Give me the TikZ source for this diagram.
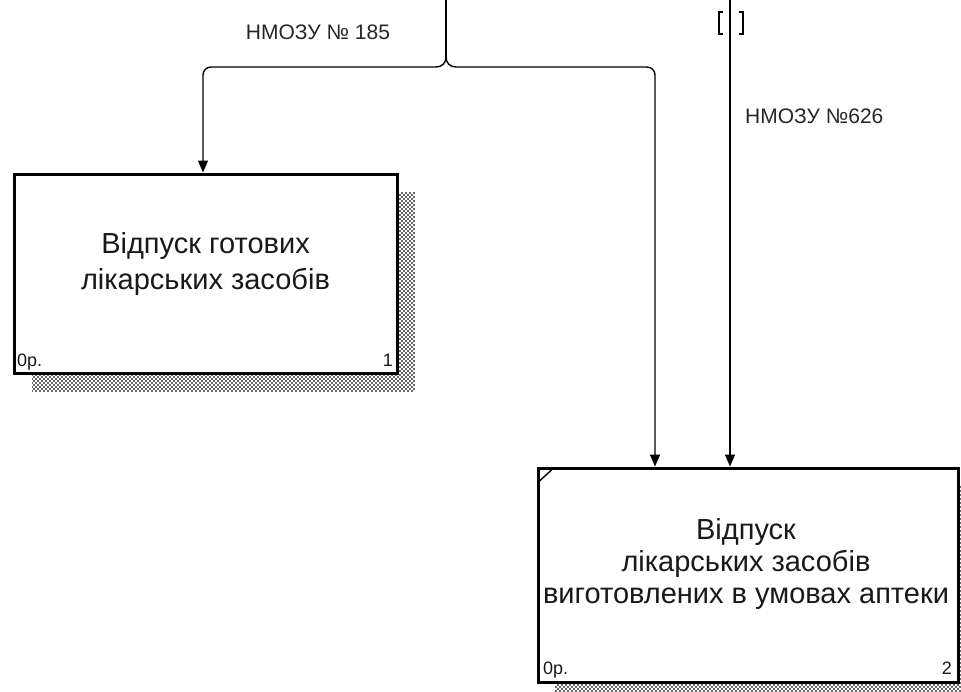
\documentclass[tikz,border=0pt]{standalone}
\usepackage{fontspec}
\setmainfont{Liberation Sans}
\usetikzlibrary{arrows.meta,patterns,calc}
\pgfdeclarepatternformonly{shadedots}{\pgfqpoint{-1pt}{-1pt}}{\pgfqpoint{5pt}{5pt}}{\pgfqpoint{4pt}{4pt}}%
{\pgfpathcircle{\pgfqpoint{0pt}{0pt}}{1.1pt}\pgfpathcircle{\pgfqpoint{2pt}{2pt}}{1.1pt}\pgfusepath{fill}}
\begin{document}
\begin{tikzpicture}[x=1pt,y=-1pt,
  actbox/.style={draw=black,line width=3pt,fill=white,rectangle,inner sep=0pt},
  shadowbox/.style={pattern=shadedots,pattern color=black!80},
  arrowline/.style={line width=1.4pt,-{Triangle[length=12pt,width=10pt]}},
  plainline/.style={line width=1.4pt},
  lbl/.style={font=\fontsize{21}{23}\selectfont,text=black!85,inner sep=0pt},
  boxtxt/.style={align=center,inner sep=0pt,text=black!90},
  corner/.style={font=\fontsize{18}{19}\selectfont,inner sep=0pt,text=black!90}]
\useasboundingbox (0,0) rectangle (961,691);
% shadows
\fill[shadowbox] (32,192) rectangle (415,391);
\fill[shadowbox] (555,485) rectangle (975,700);
% boxes
\node[actbox,minimum width=383pt,minimum height=199pt] (b1) at (205.5,273.5) {};
\node[actbox,minimum width=420pt,minimum height=214pt] (b2) at (748,575) {};
% texts
\node[boxtxt,font=\fontsize{29}{36}\selectfont] (t1) at (205.5,264) {Відпуск готових\\лікарських засобів};
\node[boxtxt,font=\fontsize{29}{32}\selectfont] (t2) at (746,564) {Відпуск\\лікарських засобів\\виготовлених в умовах аптеки};
\node[corner,anchor=base west] (o1) at (17,366) {0р.};
\node[corner,anchor=base east] (n1) at (393,366) {1};
\node[corner,anchor=base west] (o2) at (543,674) {0р.};
\node[corner,anchor=base east] (n2) at (952,674) {2};
% corner mark box 2
\coordinate (cm1) at (539.5,481);
\coordinate (cm2) at (552,469.5);
\draw[line width=1.4pt] (cm1) -- (cm2);
% arrows
\coordinate (in1) at (446,0);
\coordinate (fk) at (446,57);
\coordinate (fl) at (436,67);
\coordinate (fr) at (456,67);
\coordinate (c1) at (203,67);
\coordinate (c2) at (655,67);
\coordinate (in2) at (730,0);
\draw[plainline] (in1) -- (fk);
\draw[plainline] (fk) .. controls (446,63) and (442,67) .. (fl);
\draw[plainline] (fk) .. controls (446,63) and (450,67) .. (fr);
\draw[arrowline,rounded corners=8pt] (fl) -- (c1) -- (c1 |- b1.north);
\draw[arrowline,rounded corners=8pt] (fr) -- (c2) -- (c2 |- b2.north);
\draw[arrowline] (in2) -- (in2 |- b2.north);
% tunnel brackets
\draw[line width=1.4pt] (723,12) -- (719,12) -- (719,34) -- (723,34);
\draw[line width=1.4pt] (739,12) -- (743,12) -- (743,34) -- (739,34);
% labels
\node[lbl] (l1) at (318,32) {НМОЗУ № 185};
\node[lbl,anchor=west] (l2) at (745,116) {НМОЗУ №626};
\end{tikzpicture}
\end{document}
